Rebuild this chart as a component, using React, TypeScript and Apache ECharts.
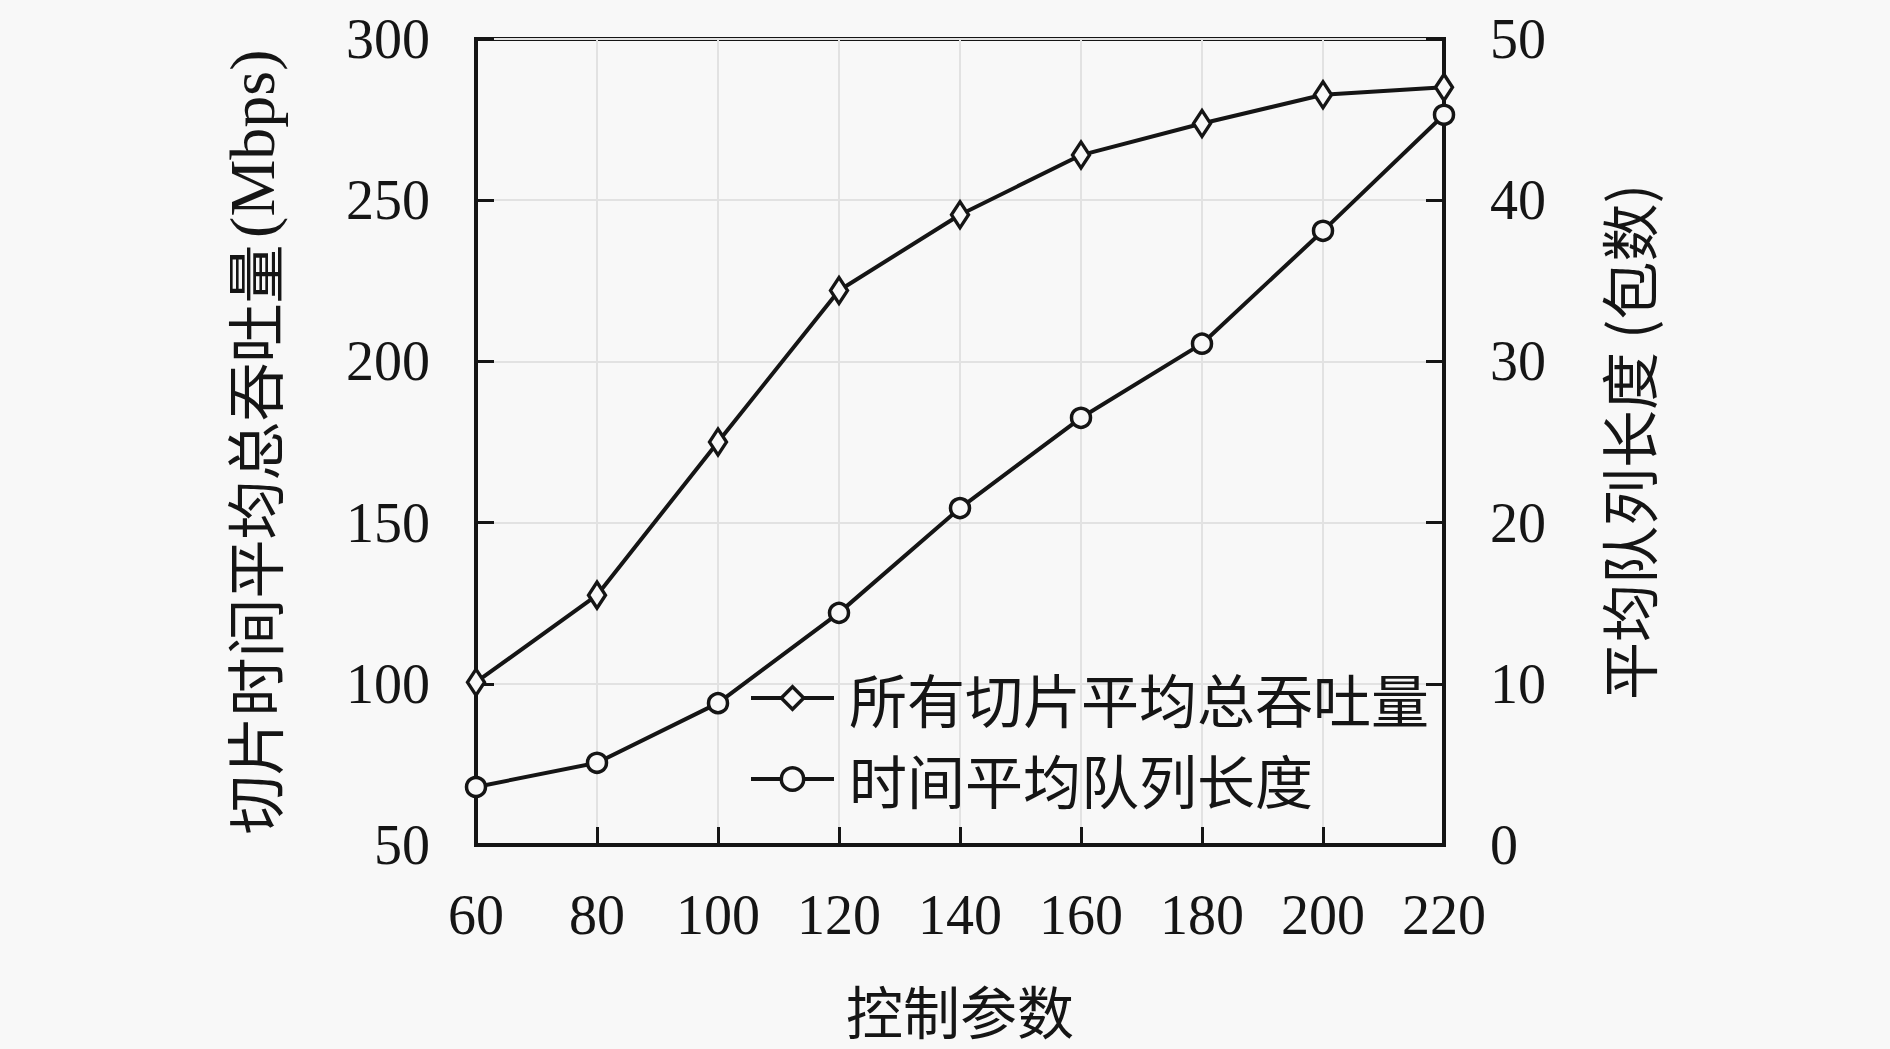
import React, { useEffect, useRef } from "react";
import * as echarts from "echarts";

const xValues = [60, 80, 100, 120, 140, 160, 180, 200, 220];
const throughput = [100.5, 127.5, 175, 222, 245.5, 264, 273.8, 282.7, 285];
const queueLength = [3.6, 5.1, 8.8, 14.4, 20.9, 26.5, 31.1, 38.1, 45.3];
const seriesNames = ["所有切片平均总吞吐量", "时间平均队列长度"];

const BG = "#f8f8f8";
const INK = "#151515";
const SERIF = "'Liberation Serif', 'DejaVu Serif', serif";
const CJK = "'Noto Sans CJK SC', sans-serif";

export default function App() {
  const ref = useRef<HTMLDivElement>(null);
  useEffect(() => {
    if (!ref.current) return;
    const chart = echarts.init(ref.current, undefined, { renderer: "svg" });
    const axisCommon = {
      axisLine: { show: true, lineStyle: { color: INK, width: 4 } },
      axisTick: { show: true, inside: true, length: 18, lineStyle: { color: INK, width: 3 } },
      axisLabel: { fontFamily: SERIF, fontSize: 56, color: INK, margin: 46 },
    };
    chart.setOption({
      animation: false,
      backgroundColor: BG,
      grid: {
        left: 476,
        right: 446,
        top: 39,
        bottom: 204,
        show: true,
        borderColor: INK,
        borderWidth: 4,
        backgroundColor: "transparent",
      },
      legend: {
        orient: "vertical",
        left: 744,
        top: 664,
        itemWidth: 83,
        itemHeight: 28,
        itemGap: 23,
        lineStyle: { width: 4 },
        itemStyle: { borderWidth: 3.5 },
        textStyle: { fontFamily: CJK, fontSize: 58, color: INK, padding: [0, 0, 0, 10] },
        data: seriesNames,
      },
      xAxis: {
        type: "value",
        min: 60,
        max: 220,
        interval: 20,
        ...axisCommon,
        axisLabel: { ...axisCommon.axisLabel, margin: 42 },
        splitLine: { show: true, lineStyle: { color: "#e2e2e2", width: 2 } },
        name: "控制参数",
        nameLocation: "middle",
        nameGap: 134,
        nameTextStyle: { fontFamily: CJK, fontSize: 57, color: INK, lineHeight: 60 },
      },
      yAxis: [
        {
          type: "value",
          min: 50,
          max: 300,
          interval: 50,
          position: "left",
          ...axisCommon,
          splitLine: { show: true, lineStyle: { color: "#e2e2e2", width: 2 } },
          name: "{c|切片时间平均总吞吐量}  {l|(Mbps)}",
          nameLocation: "middle",
          nameRotate: 90,
          nameGap: 192,
          nameTextStyle: {
            color: INK,
            rich: {
              c: { fontFamily: CJK, fontSize: 59, color: INK },
              l: { fontFamily: SERIF, fontSize: 64, color: INK },
            },
          },
        },
        {
          type: "value",
          min: 0,
          max: 50,
          interval: 10,
          position: "right",
          ...axisCommon,
          splitLine: { show: false },
          name: "平均队列长度 (包数)",
          nameLocation: "middle",
          nameRotate: 90,
          nameGap: 154,
          nameTextStyle: { fontFamily: CJK, fontSize: 58, color: INK },
        },
      ],
      series: [
        {
          name: seriesNames[0],
          type: "line",
          yAxisIndex: 0,
          data: xValues.map((x, i) => [x, throughput[i]]),
          symbol: "diamond",
          symbolSize: [17, 26],
          lineStyle: { color: INK, width: 4 },
          itemStyle: { color: BG, borderColor: INK, borderWidth: 3.5 },
          z: 3,
        },
        {
          name: seriesNames[1],
          type: "line",
          yAxisIndex: 1,
          data: xValues.map((x, i) => [x, queueLength[i]]),
          symbol: "circle",
          symbolSize: 19,
          lineStyle: { color: INK, width: 4 },
          itemStyle: { color: BG, borderColor: INK, borderWidth: 3.5 },
          z: 3,
        },
      ],
    });
    return () => chart.dispose();
  }, []);
  return (
    <div
      ref={ref}
      style={{ position: "fixed", left: 0, top: 0, width: 1890, height: 1049, background: BG }}
    />
  );
}
